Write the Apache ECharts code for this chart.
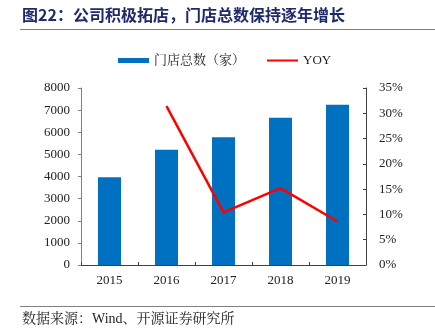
<!DOCTYPE html>
<html><head><meta charset="utf-8">
<script src="https://cdn.jsdelivr.net/npm/echarts@6/dist/echarts.min.js"></script>
<style>html,body{margin:0;padding:0;background:#fff;}#c{width:435px;height:335px;}</style>
</head><body><div id="c"></div>
<script>
var categories = ['2015','2016','2017','2018','2019'];
var storeCounts = [3970, 5210, 5770, 6650, 7240];
var yoy = [null, 31.4, 10.4, 15.2, 8.6];
var leftTicks = [0, 8000, 1000];
var rightTicks = [0, 35, 5];
var titleText = '图22：公司积极拓店，门店总数保持逐年增长';
var sourceText = '数据来源：Wind、开源证券研究所';
var barName = '门店总数（家）';
var lineName = 'YOY';

var serif = '"Liberation Serif", "Noto Serif CJK SC", "Noto Sans CJK SC", serif';
var chart = echarts.init(document.getElementById('c'), null, {renderer:'canvas'});
chart.setOption({
  animation: false,
  backgroundColor: '#fff',
  graphic: [
    {type:'text', left: 22, top: 7, style:{text: titleText, font: 'bold 16px "Noto Sans CJK SC", sans-serif', fill:'#1f2a6b'}},
    {type:'line', shape:{x1:20,y1:29.5,x2:435,y2:29.5}, style:{stroke:'#808080', lineWidth:1}},
    {type:'line', shape:{x1:20,y1:306.5,x2:435,y2:306.5}, style:{stroke:'#808080', lineWidth:1}},
    {type:'text', left: 22, top: 312, style:{text: sourceText, font: '14px ' + serif, fill:'#222'}}
  ],
  legend: {
    top: 49, left: 113,
    itemGap: 22, itemWidth: 31, itemHeight: 5,
    symbolKeepAspect: true,
    textStyle: {fontFamily: serif, fontSize: 13, color:'#222'},
    data: [
      {name: barName, icon: 'rect'},
      {name: lineName, icon: 'path://M0,0L31,0L31,2L0,2Z', itemStyle:{color:'#ff0000'}}
    ]
  },
  grid: {left: 81, right: 69, top: 88, bottom: 70},
  xAxis: {
    type: 'category', data: categories,
    axisLine: {lineStyle:{color:'#404040'}},
    axisTick: {show: true, inside: true, length: 3, lineStyle:{color:'#404040'}},
    axisLabel: {fontFamily: serif, fontSize: 13, color:'#222', margin: 9}
  },
  yAxis: [
    {type:'value', min: leftTicks[0], max: leftTicks[1], interval: leftTicks[2],
     axisLine:{show:true, lineStyle:{color:'#808080'}},
     axisTick:{show:true, length:3, lineStyle:{color:'#808080'}},
     splitLine:{show:false},
     axisLabel:{fontFamily: serif, fontSize: 13, color:'#222', margin: 11, formatter: function(v){return String(v);}}},
    {type:'value', min: rightTicks[0], max: rightTicks[1], interval: rightTicks[2],
     axisLine:{show:true, lineStyle:{color:'#404040'}},
     axisTick:{show:true, length:3, inside:true, lineStyle:{color:'#404040'}},
     splitLine:{show:false},
     axisLabel:{fontFamily: serif, fontSize: 13, color:'#222', margin: 13, formatter: '{value}%'}}
  ],
  series: [
    {name: barName, type:'bar', data: storeCounts, barWidth: 23, itemStyle:{color:'#0070c0'}, yAxisIndex: 0},
    {name: lineName, type:'line', data: yoy, yAxisIndex: 1, symbol:'none', itemStyle:{color:'#ff0000'}, lineStyle:{color:'#ff0000', width:2.5}}
  ]
});
</script></body></html>
